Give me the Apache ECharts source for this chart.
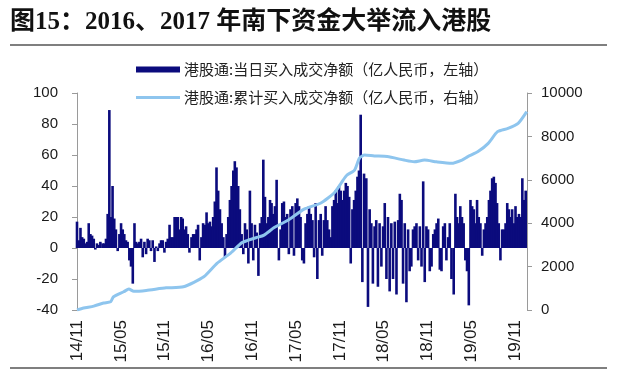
<!DOCTYPE html>
<html>
<head>
<meta charset="utf-8">
<script src="https://cdn.jsdelivr.net/npm/echarts@6/dist/echarts.min.js"></script>
<style>html,body{margin:0;padding:0;background:#fff;}#c{width:622px;height:372px;}</style>
</head>
<body>
<div id="c"></div>
<script>
// ---- data ----
const titleText = '图15：2016、2017 年南下资金大举流入港股';
const barName = '港股通:当日买入成交净额（亿人民币，左轴）';
const lineName = '港股通:累计买入成交净额（亿人民币，右轴）';

// weekly series starting at this date (one value per week)
const firstWeek = '2014-11-17';
const netFlow = [
  17,5,13,7,6,3,4,16,9,8, 6,-1,3,2,4,3,3,6,22,89, 20,40,19,12,-2,9,16,12,9,5, 4,-8,-12,-23,16,4,3,4,6,-6, 4,-4,6,5,-2,5,-9,1,-2,3, 5,5,-3,4,
  6,15,7,7,20,20,20,12,20,19, 12,14,9,-3,7,9,9,12,15,-8, 7,16,15,23,16,17,14,20,30,52, 37,25,16,7,-6,9,20,31,40,50, 56,52,40,25,9,-4,16,12,-10,37, 16,-8,15,10,
  -18,16,20,57,33,16,20,31,29,22, 27,44,-8,12,29,30,20,22,-4,25, 27,-5,29,32,27,20,-8,-10,16,22, 27,22,18,-6,29,-20,18,22,-5,18, 27,18,12,7,27,31,37,29,40,37, 31,37,42,40,
  33,-10,25,31,37,46,50,86,-22,48, 45,-38,25,16,-23,14,18,-25,16,-12, 14,29,-20,20,-28,16,-20,17,-30,18, 35,31,-23,16,-35,12,-15,-12,12,14, 16,-8,14,-12,43,-22,14,12,-15,-12, 9,12,16,
  19,-14,-15,14,16,-8,7,16,-20,-30, 35,20,16,27,20,16,-8,-15,-37,31, 27,25,16,31,20,16,-5,12,16,20, 31,37,45,46,42,29,16,-8,12,12, 16,29,25,20,25,16,27,20,22,20, 45,31,37
];

const cumDates = ['2014-11-17','2014-12-14','2015-01-26','2015-03-06','2015-04-05','2015-04-17','2015-05-29','2015-06-20','2015-07-10','2015-09-01',
  '2015-11-23','2016-02-04','2016-04-28','2016-06-22','2016-08-19','2016-10-02','2016-10-26','2016-12-02','2017-01-05','2017-02-17',
  '2017-04-11','2017-06-20','2017-08-29','2017-10-23','2017-11-22','2017-12-14','2018-01-17','2018-02-07','2018-02-28','2018-04-08',
  '2018-06-01','2018-08-10','2018-09-22','2018-11-04','2018-12-23','2019-02-25','2019-04-08','2019-05-02','2019-06-14','2019-07-26',
  '2019-09-04','2019-10-17','2019-11-29','2020-01-04'];
const cumValues = [0,90,180,320,380,610,840,970,860,900,
  1020,1070,1530,2150,2630,3090,3200,3330,3450,3800,
  4120,4650,4930,5390,5850,6200,6450,7000,7140,7100,
  7070,6910,6830,6910,6830,6760,6910,7070,7300,7680,
  8220,8370,8600,9140];

const leftTicks = {min:-40, max:100, interval:20};
const rightTicks = {min:0, max:10000, interval:2000};
const axisEndDate = '2020-01-05';

// ---- helpers ----
function monthOffset(s){
  const p = s.split('-').map(Number);
  return (p[0]-2014)*12 + (p[1]-11) + (p[2]-17)/30.4375;
}
const weekDates = [];
{
  const p = firstWeek.split('-').map(Number);
  const t0 = Date.UTC(p[0], p[1]-1, p[2]);
  for (let i=0;i<netFlow.length;i++){
    weekDates.push(new Date(t0 + i*7*86400000).toISOString().slice(0,10));
  }
}
const barData = netFlow.map((v,i)=>[monthOffset(weekDates[i]), v]);
const lineData = cumValues.map((v,i)=>[monthOffset(cumDates[i]), v]);

function monthLabel(v){
  const total = 2014*12 + 10 + Math.round(v);
  const y = Math.floor(total/12), m = total%12 + 1;
  return String(y%100).padStart(2,'0') + '/' + String(m).padStart(2,'0');
}

const chart = echarts.init(document.getElementById('c'), null, {renderer:'canvas'});
const axisColor = '#9a9a9a';
const labelFont = {fontFamily:'Liberation Sans', fontSize:15, color:'#1a1a1a'};
chart.setOption({
  animation:false,
  backgroundColor:'#fff',
  graphic:[
    {type:'text', left:10, top:10, style:{text:titleText, font:'bold 25px "Liberation Serif","Noto Sans CJK SC"', fill:'#111'}},
    {type:'line', shape:{x1:10,y1:45,x2:607,y2:45}, style:{stroke:'#7f7f7f', lineWidth:2}},
    {type:'line', shape:{x1:10,y1:368,x2:607,y2:368}, style:{stroke:'#7f7f7f', lineWidth:2}}
  ],
  legend:[
    {left:136, top:62, padding:0, itemWidth:44, itemHeight:6, itemGap:0,
     data:[{name:barName, icon:'rect'}],
     textStyle:{fontFamily:'Noto Sans CJK SC', fontSize:15, color:'#222', padding:[0,0,0,-1]}},
    {left:136, top:90, padding:0, itemWidth:44, itemHeight:3, itemGap:0,
     data:[{name:lineName, icon:'rect'}],
     textStyle:{fontFamily:'Noto Sans CJK SC', fontSize:15, color:'#222', padding:[0,0,0,-1]}}
  ],
  grid:{left:77, right:95, top:93, bottom:62, containLabel:false},
  xAxis:{
    type:'value', min:0, max:monthOffset(axisEndDate), interval:6,
    axisLine:{show:false}, axisTick:{show:false}, splitLine:{show:false},
    axisLabel:{rotate:90, margin:10, showMaxLabel:false, formatter:monthLabel,
      fontFamily:'Liberation Sans', fontSize:17, color:'#1a1a1a'}
  },
  yAxis:[
    {type:'value', position:'left', min:leftTicks.min, max:leftTicks.max, interval:leftTicks.interval,
     axisLine:{show:true, lineStyle:{color:axisColor, width:1}},
     axisTick:{show:true, length:5, lineStyle:{color:axisColor}},
     splitLine:{show:false},
     axisLabel:Object.assign({margin:19, formatter:v=>String(v)}, labelFont)},
    {type:'value', position:'right', min:rightTicks.min, max:rightTicks.max, interval:rightTicks.interval,
     axisLine:{show:true, lineStyle:{color:axisColor, width:1}},
     axisTick:{show:true, length:5, lineStyle:{color:axisColor}},
     splitLine:{show:false},
     axisLabel:Object.assign({margin:14, formatter:v=>String(v)}, labelFont)}
  ],
  series:[
    {name:barName, type:'bar', yAxisIndex:0, data:barData, barWidth:2.6,
     itemStyle:{color:'#0b0b7d'}, z:2},
    {name:lineName, type:'line', yAxisIndex:1, data:lineData, showSymbol:false, symbol:'none',
     lineStyle:{color:'#8ec5ee', width:3}, itemStyle:{color:'#8ec5ee'}, z:3, smooth:0.2}
  ]
});
</script>
</body>
</html>
